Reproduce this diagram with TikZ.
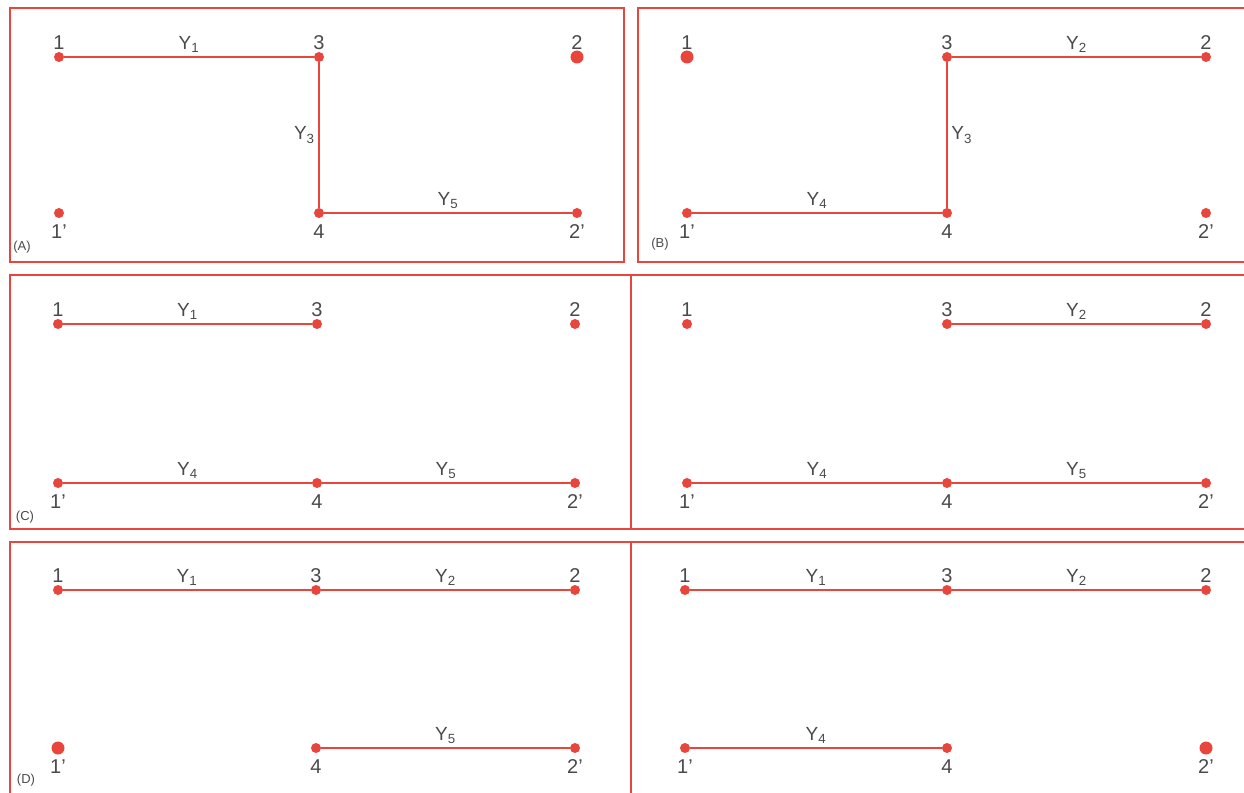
\documentclass[tikz,border=0pt]{standalone}
\usepackage{fontspec}
\setmainfont{Liberation Sans}
\definecolor{rd}{HTML}{E8453C}
\definecolor{tx}{HTML}{4A4A4A}
\newcommand\mkpanel[6]{%
  \node[dot,label={[lab,label distance=1pt]above:1}]  (#1a)  at (#2,#5) {};
  \node[dot,label={[lab,label distance=1pt]above:3}]  (#1c)  at (#3,#5) {};
  \node[dot,label={[lab,label distance=1pt]above:2}]  (#1b)  at (#4,#5) {};
  \node[dot,label={[lab,label distance=5pt]below:1'}] (#1ap) at (#2,#6) {};
  \node[dot,label={[lab,label distance=5pt]below:4}]  (#1d)  at (#3,#6) {};
  \node[dot,label={[lab,label distance=5pt]below:2'}] (#1bp) at (#4,#6) {};
}
\begin{document}
\begin{tikzpicture}[x=1pt,y=-1pt,
  dot/.style={circle,fill=rd,draw=none,inner sep=0pt,minimum size=10pt},
  bigdot/.style={circle,fill=rd,draw=none,inner sep=0pt,minimum size=13pt},
  lab/.style={text=tx,font=\fontsize{20}{22}\selectfont,inner sep=1pt},
  ylab/.style={text=tx,font=\fontsize{19}{22}\selectfont,inner sep=3pt},
  plab/.style={text=tx,font=\fontsize{13}{15}\selectfont,inner sep=0pt},
  frame/.style={draw=rd,line width=1.8pt},
  wire/.style={draw=rd,line width=2.8pt}]
\useasboundingbox (0,0) rectangle (1244,792);
% frames
\draw[frame] (10,8) rectangle (624,262);
\draw[frame] (1250,8) -- (638,8) -- (638,262) -- (1250,262);
\draw[frame] (1250,275) -- (10,275) -- (10,529) -- (1250,529);
\draw[frame] (631,275) -- (631,529);
\draw[frame] (1250,542) -- (10,542) -- (10,800);
\draw[frame] (631,542) -- (631,800);
% panels
\mkpanel{A}{59}{319}{577}{57}{213}
\mkpanel{B}{687}{947}{1206}{57}{213}
\mkpanel{C}{58}{317}{575}{324}{483}
\mkpanel{E}{687}{947}{1206}{324}{483}
\mkpanel{D}{58}{316}{575}{590}{748}
\mkpanel{F}{685}{947}{1206}{590}{748}
% enlarged isolated dots
\node[bigdot] at (Ab) {};
\node[bigdot] at (Ba) {};
\node[bigdot] at (Dap) {};
\node[bigdot] at (Fbp) {};
% panel letters
\node[plab] (LA) at (22,247) {(A)};
\node[plab] (LB) at (660,244) {(B)};
\node[plab] (LC) at (25,517) {(C)};
\node[plab] (LD) at (26,780) {(D)};
% wires A
\draw[wire] (Aa) -- node[ylab,above]{Y\textsubscript{1}} (Ac);
\draw[wire] (Ac) -- node[ylab,left]{Y\textsubscript{3}} (Ad);
\draw[wire] (Ad) -- node[ylab,above]{Y\textsubscript{5}} (Abp);
% wires B
\draw[wire] (Bc) -- node[ylab,above]{Y\textsubscript{2}} (Bb);
\draw[wire] (Bc) -- node[ylab,right]{Y\textsubscript{3}} (Bd);
\draw[wire] (Bap) -- node[ylab,above]{Y\textsubscript{4}} (Bd);
% wires C
\draw[wire] (Ca) -- node[ylab,above]{Y\textsubscript{1}} (Cc);
\draw[wire] (Cap) -- node[ylab,above]{Y\textsubscript{4}} (Cd);
\draw[wire] (Cd) -- node[ylab,above]{Y\textsubscript{5}} (Cbp);
% wires E
\draw[wire] (Ec) -- node[ylab,above]{Y\textsubscript{2}} (Eb);
\draw[wire] (Eap) -- node[ylab,above]{Y\textsubscript{4}} (Ed);
\draw[wire] (Ed) -- node[ylab,above]{Y\textsubscript{5}} (Ebp);
% wires D
\draw[wire] (Da) -- node[ylab,above]{Y\textsubscript{1}} (Dc);
\draw[wire] (Dc) -- node[ylab,above]{Y\textsubscript{2}} (Db);
\draw[wire] (Dd) -- node[ylab,above]{Y\textsubscript{5}} (Dbp);
% wires F
\draw[wire] (Fa) -- node[ylab,above]{Y\textsubscript{1}} (Fc);
\draw[wire] (Fc) -- node[ylab,above]{Y\textsubscript{2}} (Fb);
\draw[wire] (Fap) -- node[ylab,above]{Y\textsubscript{4}} (Fd);
\end{tikzpicture}
\end{document}
